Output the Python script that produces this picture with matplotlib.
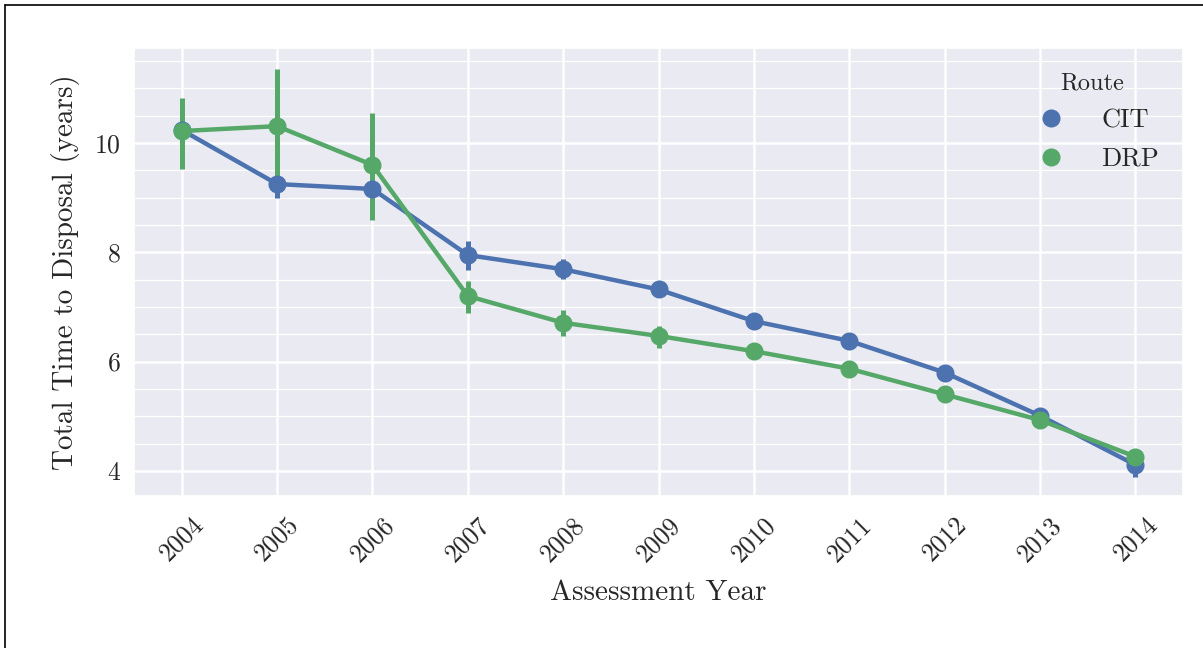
import numpy as np
import matplotlib.pyplot as plt
import seaborn as sns
from matplotlib.lines import Line2D
from matplotlib.ticker import MultipleLocator

sns.set_theme(style="darkgrid")
plt.rcParams['font.family'] = ['cmr10', 'DejaVu Serif']
plt.rcParams['axes.formatter.use_mathtext'] = True

years = ["2004", "2005", "2006", "2007", "2008", "2009", "2010", "2011", "2012", "2013", "2014"]

# mean total time to disposal, with confidence interval bounds
cit_mean = [10.24, 9.25, 9.16, 7.95, 7.69, 7.32, 6.74, 6.38, 5.80, 5.01, 4.11]
cit_low = [10.05, 9.00, 8.95, 7.68, 7.52, 7.18, 6.60, 6.30, 5.72, 4.93, 3.88]
cit_high = [10.40, 9.50, 9.37, 8.21, 7.88, 7.46, 6.86, 6.46, 5.88, 5.09, 4.30]

drp_mean = [10.22, 10.31, 9.60, 7.20, 6.71, 6.47, 6.19, 5.87, 5.40, 4.93, 4.26]
drp_low = [9.52, 9.20, 8.60, 6.89, 6.47, 6.25, 6.08, 5.80, 5.33, 4.87, 4.18]
drp_high = [10.82, 11.35, 10.55, 7.48, 6.95, 6.66, 6.31, 5.95, 5.48, 4.99, 4.34]

blue = "#4c72b0"
green = "#55a868"

fig = plt.figure(figsize=(12.03, 6.48), dpi=100)
ax = fig.add_axes([0.1114, 0.2346, 0.872, 0.6913])

x = np.arange(len(years))
for mean, low, high, col in [(cit_mean, cit_low, cit_high, blue),
                             (drp_mean, drp_low, drp_high, green)]:
    ax.vlines(x, low, high, color=col, lw=3.6, zorder=3)
    ax.plot(x, mean, color=col, lw=3.2, marker="o", ms=12, zorder=4)

ax.set_xlim(-0.5, 10.5)
ax.set_ylim(3.54, 11.74)
ax.set_xticks(x)
ax.set_xticklabels(years, rotation=45, fontsize=18.5)
ax.yaxis.set_major_locator(MultipleLocator(2))
ax.yaxis.set_minor_locator(MultipleLocator(0.5))
ax.tick_params(axis="y", labelsize=18.5)
ax.tick_params(axis="x", pad=6)
ax.grid(which="major", color="white", lw=1.8)
ax.grid(which="minor", axis="y", color="white", lw=0.9)

ax.set_xlabel("Assessment Year", fontsize=21, labelpad=10)
ax.set_ylabel("Total Time to Disposal (years)", fontsize=21, labelpad=10)

handles = [Line2D([], [], ls="", marker="o", ms=12, color=blue),
           Line2D([], [], ls="", marker="o", ms=12, color=green)]
leg = ax.legend(handles, ["CIT", "DRP"], title="Route", loc="upper right",
                frameon=False, fontsize=19, title_fontsize=17.5,
                bbox_to_anchor=(1.0, 0.999), handletextpad=0.9, labelspacing=0.55)

# outer frame (top and left edges)
fig.add_artist(Line2D([5 / 1203, 1], [1 - 5 / 648, 1 - 5 / 648], color="black", lw=1.2))
fig.add_artist(Line2D([5 / 1203, 5 / 1203], [0, 1 - 5 / 648], color="black", lw=1.2))

fig.savefig("out.png", dpi=100, facecolor="white")
